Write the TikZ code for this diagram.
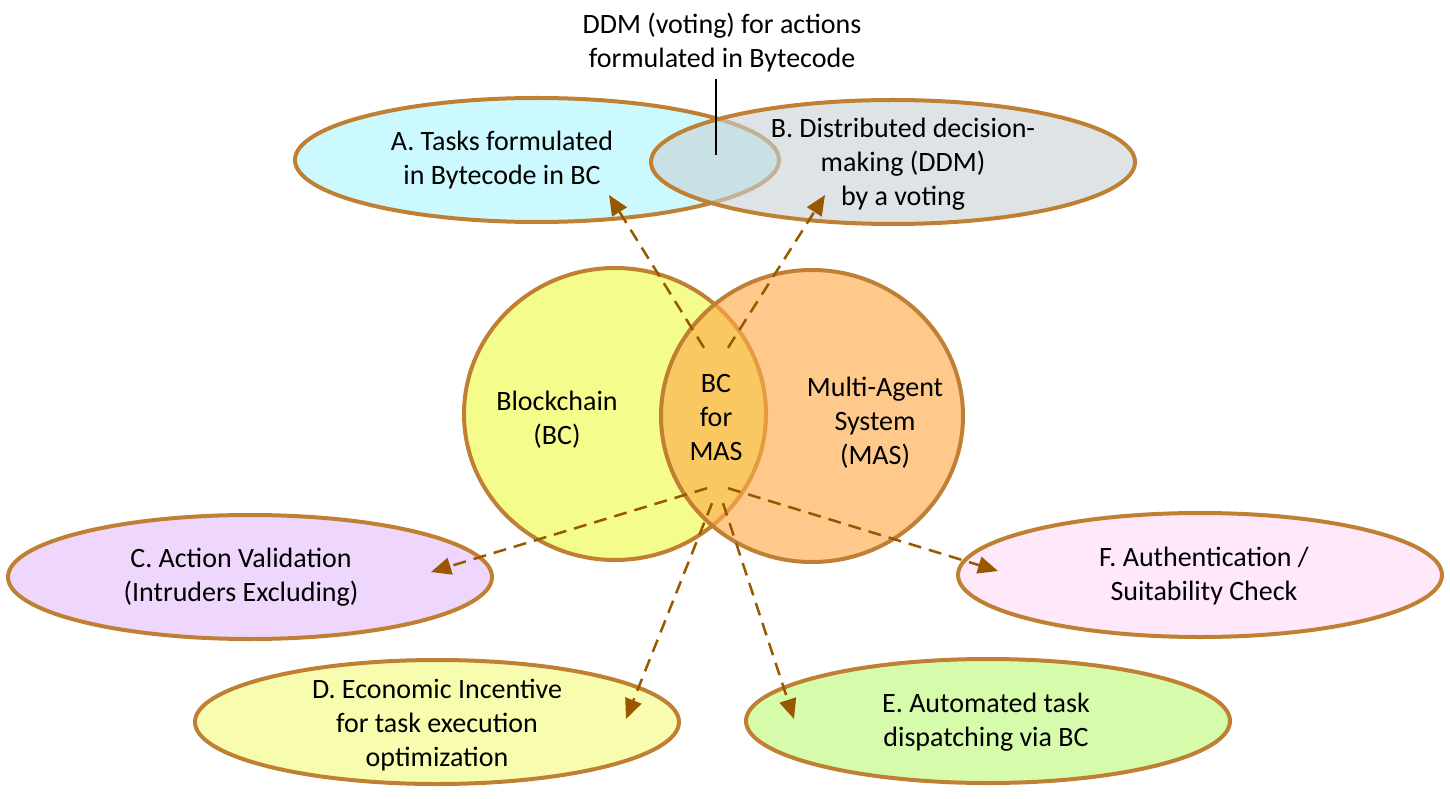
\documentclass[tikz,border=0pt]{standalone}
\usepackage{fontspec}
\setmainfont{Carlito}
\usetikzlibrary{arrows.meta,shapes.geometric}

\definecolor{rim}{RGB}{192,128,52}
\definecolor{flowc}{RGB}{153,87,0}
\definecolor{fillA}{RGB}{203,249,253}
\definecolor{fillB}{RGB}{200,208,213}
\definecolor{fillBC}{RGB}{244,252,140}
\definecolor{fillMAS}{RGB}{255,170,73}
\definecolor{fillC}{RGB}{238,214,252}
\definecolor{fillD}{RGB}{247,252,175}
\definecolor{fillE}{RGB}{214,251,171}
\definecolor{fillF}{RGB}{254,232,249}

\begin{document}
\begin{tikzpicture}[x=1pt, y=-1pt, >={Triangle[length=20pt,width=17pt]},
font=\fontsize{28}{34}\selectfont,
blob/.style={ellipse, draw=rim, line width=4pt, minimum width=484pt, minimum height=124pt, inner sep=0pt},
disc/.style={ellipse, draw=rim, line width=4pt, minimum width=302pt, minimum height=292pt, inner sep=0pt},
txt/.style={align=center, inner sep=0pt},
flow/.style={->, color=flowc, line width=2.5pt, dash pattern=on 13pt off 8pt}]
    \useasboundingbox (0,0) rectangle (1450,799);

    % top pair
    \node[blob, fill=fillA] (A) at (537,160) {};
    \node[blob, fill=fillB, fill opacity=0.6] (B) at (893,162) {};

    % the two sets
    \node[disc, fill=fillBC] (BC) at (615,414) {};
    \node[disc, fill=fillMAS, fill opacity=0.63] (MAS) at (812,416) {};

    % lower ring
    \node[blob, fill=fillC] (C) at (250,577) {};
    \node[blob, fill=fillD] (D) at (437,722) {};
    \node[blob, fill=fillE] (E) at (988,721) {};
    \node[blob, fill=fillF] (F) at (1200,575) {};

    \node[txt] (Atxt) at (502,160) {A. Tasks formulated\\in Bytecode in BC};
    \node[txt] (Btxt) at (903,164) {B. Distributed decision-\\making (DDM)\\by a voting};
    \node[txt] (BCtxt) at (557,420) {Blockchain\\(BC)};
    \node[txt] (MAStxt) at (875,423) {Multi-Agent\\System\\(MAS)};
    \node[txt, minimum height=140pt] (core) at (716,418) {BC\\for\\MAS};
    \node[txt] (Ctxt) at (241,577) {C. Action Validation\\(Intruders Excluding)};
    \node[txt] (Dtxt) at (437,725) {D. Economic Incentive\\for task execution\\optimization};
    \node[txt] (Etxt) at (986,722) {E. Automated task\\dispatching via BC};
    \node[txt] (Ftxt) at (1204,576) {F. Authentication /\\Suitability Check};

    \coordinate (tipA) at (609,195);
    \coordinate (tipB) at (825,195);
    \coordinate (tipC) at (431,572);
    \coordinate (tipD) at (626,719);
    \coordinate (tipE) at (794,719);
    \coordinate (tipF) at (998,571);

    \path[flow]
        ([xshift=-12pt]core.north) edge (tipA)
        ([xshift=12pt]core.north) edge (tipB)
        ([xshift=-9pt]core.south) edge (tipC)
        ([xshift=12pt]core.south) edge (tipF)
        ([xshift=-4pt,yshift=-15pt]core.south) edge (tipD)
        ([xshift=7pt,yshift=-15pt]core.south) edge (tipE);

    % note on the A/B overlap
    \node[txt, inner sep=6pt] (ddm) at (722,43) {DDM (voting) for actions\\formulated in Bytecode};
    \coordinate (lap) at (716,155);
    \draw[line width=2pt] (ddm.south -| lap) -- (lap);
\end{tikzpicture}
\end{document}
